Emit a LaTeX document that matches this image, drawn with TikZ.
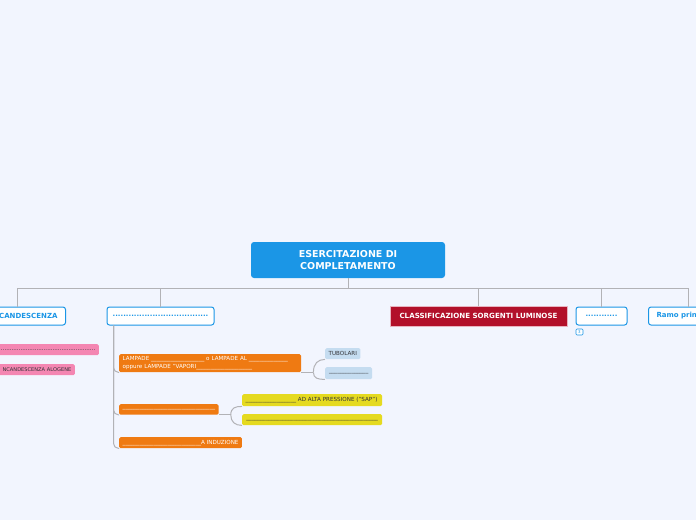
\documentclass[tikz,border=0pt]{standalone}
\usepackage{fontspec}
\setmainfont{DejaVu Sans}
\usepackage{tikz}
\usetikzlibrary{positioning}
\definecolor{mapbg}{RGB}{242,245,254}
\definecolor{mapblue}{RGB}{27,150,230}
\definecolor{mapline}{RGB}{178,178,182}
\definecolor{mapred}{RGB}{178,16,42}
\definecolor{mapredrim}{RGB}{232,180,192}
\definecolor{maporange}{RGB}{239,122,18}
\definecolor{mappink}{RGB}{244,134,178}
\definecolor{mapsky}{RGB}{197,220,240}
\definecolor{mapyellow}{RGB}{229,218,32}
\definecolor{mapink}{RGB}{50,50,55}
\newcommand{\blank}[1]{\foreach \k in {1,...,#1}{\_}}

\begin{document}
\begin{tikzpicture}[x=1pt,y=-1pt,
  conn/.style={draw=mapline,line width=1pt},
  rootbox/.style={fill=mapblue,text=white,rounded corners=3pt,minimum width=194pt,
    minimum height=36pt,align=center,inner sep=0pt,font=\fontsize{9.5}{12}\selectfont\bfseries},
  topic/.style={draw=mapblue,fill=white,rounded corners=2.5pt,line width=1pt,text=mapblue,
    minimum height=18pt,inner sep=0pt,font=\fontsize{7}{8}\selectfont\bfseries},
  leaf/.style={rounded corners=1.5pt,inner xsep=3.5pt,inner ysep=0pt,anchor=north west,
    font=\fontsize{5.6}{7.5}\selectfont}]
\path[fill=mapbg,use as bounding box] (0,0) rectangle (696,520);
\clip (0,0) rectangle (696,520);

\node[rootbox] (root) at (348,260) {ESERCITAZIONE DI\\COMPLETAMENTO};
\coordinate (hub) at (348,288);

\node[topic,anchor=east,text width=80pt,align=right,inner xsep=8pt] (incand) at (66,316) {CANDESCENZA};
\node[topic,minimum width=107pt] (vuoto) at (160.5,316) {....................................};
\node[fill=mapred,draw=mapredrim,line width=1pt,text=white,minimum width=177pt,minimum height=20pt,
  inner sep=0pt,font=\fontsize{7.1}{8}\selectfont\bfseries] (classif) at (478.5,316) {CLASSIFICAZIONE SORGENTI LUMINOSE};
\node[topic,minimum width=51pt] (altro) at (601.5,316) {............};
\node[topic,anchor=west,text width=64pt,align=left,inner xsep=8pt] (ramo) at (648,316) {Ramo prin};
\node[draw=mapblue,fill=white,rounded corners=1pt,line width=0.6pt,text=mapblue,minimum width=7pt,
  minimum height=6pt,inner sep=0pt,font=\fontsize{4}{4}\selectfont] (conta) at (579.5,332) {3};

\draw[conn] (root.south) -- (hub);
\foreach \b in {incand,vuoto,classif,altro,ramo}
  \draw[conn] (hub) -| (\b.north);

\node[leaf,anchor=north east,fill=mappink,text=mapink,text width=110pt,align=right,minimum height=11pt] (punti) at (99,344) {.....................................................};
\node[leaf,anchor=north east,fill=mappink,text=mapink,text width=90pt,align=right,minimum height=11pt,
  font=\fontsize{5.1}{7}\selectfont] (alogene) at (75,364) {NCANDESCENZA ALOGENE};
\coordinate[right=7pt of incand.south west] (spine0);
\foreach \c in {punti,alogene}
  \draw[conn,rounded corners=5pt] (spine0) |- (\c.south west);

\node[leaf,fill=maporange,text=white,text width=175pt,align=left,minimum height=18pt] (vapori) at (119,354)
  {LAMPADE \blank{19} o LAMPADE AL \blank{14}\\oppure LAMPADE "VAPORI\blank{20}};
\node[leaf,fill=maporange,text=white,minimum width=99pt,minimum height=10.5pt] (sodio) at (119,404) {\blank{33}};
\node[leaf,fill=maporange,text=white,minimum height=11pt] (induz) at (119,437) {\blank{28}A INDUZIONE};
\coordinate[right=7pt of vuoto.south west] (spine);
\foreach \c in {vapori,sodio,induz}
  \draw[conn,rounded corners=5pt] (spine) |- (\c.south west);

\node[leaf,fill=mapsky,text=mapink,minimum height=11pt] (tubol) at (325,348) {TUBOLARI};
\node[leaf,fill=mapsky,text=mapink,minimum width=47pt,minimum height=12pt] (sky2) at (325,367) {\blank{14}};
\draw[conn] (vapori.south east) -- ++(12,0) coordinate (fork1);
\draw[conn] (fork1) .. controls +(0,-9) and +(-7,0) .. (tubol.south west);
\draw[conn] (fork1) .. controls +(0,6) and +(-7,0) .. (sky2.south west);

\node[leaf,fill=mapyellow,text=mapink,text width=133pt,align=left,minimum height=12pt] (sap) at (242,394)
  {\blank{18} AD ALTA PRESSIONE ("SAP")};
\node[leaf,fill=mapyellow,text=mapink,minimum width=140pt,minimum height=11pt] (giallo2) at (242,414) {\blank{47}};
\draw[conn] (sodio.south east) -- ++(12,0) coordinate (fork2);
\draw[conn] (fork2) .. controls +(0,-7) and +(-7,0) .. (sap.south west);
\draw[conn] (fork2) .. controls +(0,7) and +(-7,0) .. (giallo2.south west);
\end{tikzpicture}
\end{document}
